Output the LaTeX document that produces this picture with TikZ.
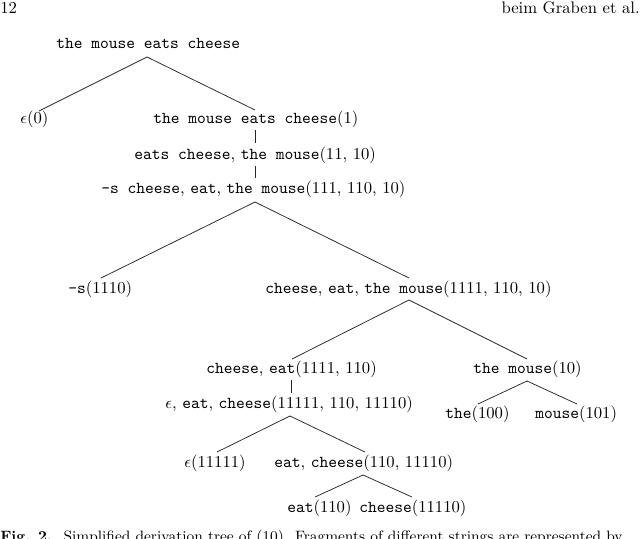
\documentclass[tikz,border=0pt]{standalone}
\usetikzlibrary{calc}
\begin{document}
\begin{tikzpicture}[x=0.6pt,y=-0.6pt,
  lbl/.style={anchor=base west,inner sep=0pt,font=\fontsize{10}{12}\selectfont},
  edge/.style={line width=0.45pt,draw=black!85}]
\useasboundingbox (0,0) rectangle (640,538);
% page header
\node[lbl] (pg) at (0,13) {12};
\node[lbl,anchor=base east] (hd) at (640,13) {beim Graben et al.};
% tree nodes
\node[lbl] (root)   at (56,48)   {\texttt{the mouse eats cheese}};
\node[lbl] (n0)     at (20,123)  {$\epsilon$(0)};
\node[lbl] (n1)     at (153,123) {\texttt{the mouse eats cheese}(1)};
\node[lbl] (n11)    at (134,159) {\texttt{eats cheese}, \texttt{the mouse}(11, 10)};
\node[lbl] (n111)   at (101,193) {\texttt{-s cheese}, \texttt{eat}, \texttt{the mouse}(111, 110, 10)};
\node[lbl] (n1110)  at (68,293)  {\texttt{-s}(1110)};
\node[lbl] (n1111)  at (265,293) {\texttt{cheese}, \texttt{eat}, \texttt{the mouse}(1111, 110, 10)};
\node[lbl] (nce)    at (206,373) {\texttt{cheese}, \texttt{eat}(1111, 110)};
\node[lbl] (n10)    at (473,373) {\texttt{the mouse}(10)};
\node[lbl] (neec)   at (165,408) {$\epsilon$, \texttt{eat}, \texttt{cheese}(11111, 110, 11110)};
\node[lbl] (n100)   at (445,418) {\texttt{the}(100)};
\node[lbl] (n101)   at (535,418) {\texttt{mouse}(101)};
\node[lbl] (n11111) at (184,467) {$\epsilon$(11111)};
\node[lbl] (nec)    at (274,467) {\texttt{eat}, \texttt{cheese}(110, 11110)};
\node[lbl] (neat)   at (287,512) {\texttt{eat}(110)};
\node[lbl] (nch)    at (359,512) {\texttt{cheese}(11110)};
% caption (cut by the page edge, as in the reference)
\node[lbl,font=\fontsize{9}{11}\selectfont] (cap) at (0,541)
  {\textbf{Fig. 2.}\hspace{7pt}Simplified derivation tree of (10). Fragments of different strings are represented by};
% edges
\draw[edge] ($(root.base west)+(91,9)$) -- ($(n0.base west)+(19,-12)$);
\draw[edge] ($(root.base west)+(91,9)$) -- ($(n1.base west)+(102,-13)$);
\draw[edge] ($(n1.base west)+(102,7)$) -- ($(n11.base west)+(121,-16)$);
\draw[edge] ($(n11.base west)+(121,7)$) -- ($(n111.base west)+(154,-15)$);
\draw[edge] ($(n111.base west)+(154,9)$) -- ($(n1110.base west)+(33,-15)$);
\draw[edge] ($(n111.base west)+(154,9)$) -- ($(n1111.base west)+(144,-15)$);
\draw[edge] ($(n1111.base west)+(144,7)$) -- ($(nce.base west)+(86,-14)$);
\draw[edge] ($(n1111.base west)+(144,7)$) -- ($(n10.base west)+(54,-14)$);
\draw[edge] ($(nce.base west)+(85,7)$) -- ($(neec.base west)+(126,-15)$);
\draw[edge] ($(n10.base west)+(54,8)$) -- ($(n100.base west)+(33,-14)$);
\draw[edge] ($(n10.base west)+(54,8)$) -- ($(n101.base west)+(42,-14)$);
\draw[edge] ($(neec.base west)+(125,8)$) -- ($(n11111.base west)+(33,-15)$);
\draw[edge] ($(neec.base west)+(125,8)$) -- ($(nec.base west)+(91,-15)$);
\draw[edge] ($(nec.base west)+(89,8)$) -- ($(neat.base west)+(28,-15)$);
\draw[edge] ($(nec.base west)+(89,8)$) -- ($(nch.base west)+(53,-15)$);
\end{tikzpicture}
\end{document}
